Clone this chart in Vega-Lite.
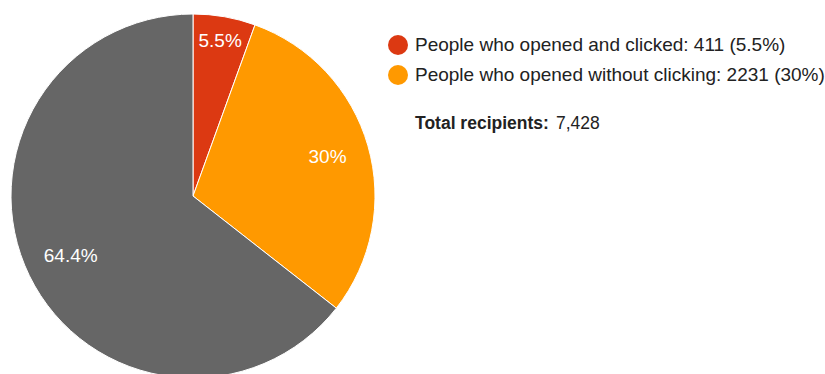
{
  "$schema": "https://vega.github.io/schema/vega-lite/v6.json",
  "padding": {"top": 12, "left": 0, "right": 0, "bottom": 0},
  "background": "white",
  "config": {"font": "Liberation Sans", "view": {"stroke": null}, "concat": {"spacing": 0}},
  "datasets": {
    "slices": [
      {"label": "People who opened and clicked: 411 (5.5%)", "count": 411, "pct": "5.5%", "order": 1},
      {"label": "People who opened without clicking: 2231 (30%)", "count": 2231, "pct": "30%", "order": 2},
      {"label": "Other recipients: 4786 (64.4%)", "count": 4786, "pct": "64.4%", "order": 3}
    ],
    "total": [{"title": "Total recipients:", "value": "7,428"}]
  },
  "hconcat": [
    {
      "width": 386,
      "height": 362,
      "data": {"name": "slices"},
      "encoding": {
        "theta": {"field": "count", "type": "quantitative", "stack": true},
        "order": {"field": "order", "type": "quantitative"}
      },
      "layer": [
        {
          "mark": {"type": "arc", "outerRadius": 182, "stroke": "white", "strokeWidth": 1},
          "encoding": {
            "color": {
              "field": "label", "type": "nominal",
              "scale": {
                "domain": ["People who opened and clicked: 411 (5.5%)", "People who opened without clicking: 2231 (30%)", "Other recipients: 4786 (64.4%)"],
                "range": ["#DC3912", "#FF9900", "#666666"]
              },
              "legend": {
                "values": ["People who opened and clicked: 411 (5.5%)", "People who opened without clicking: 2231 (30%)"],
                "title": null,
                "orient": "none",
                "legendX": 388,
                "legendY": 20,
                "symbolType": "circle",
                "symbolSize": 400,
                "symbolStrokeWidth": 0,
                "symbolOpacity": 1,
                "labelFontSize": 19,
                "labelColor": "#222222",
                "labelLimit": 500,
                "rowPadding": 10,
                "labelOffset": 7
              }
            }
          }
        },
        {
          "mark": {"type": "text", "radius": 157, "fill": "white", "fontSize": 19},
          "encoding": {
            "text": {"field": "pct", "type": "nominal"},
            "opacity": {"condition": {"test": "datum.order === 1", "value": 1}, "value": 0}
          }
        },
        {
          "mark": {"type": "text", "radius": 140, "fill": "white", "fontSize": 19},
          "encoding": {
            "text": {"field": "pct", "type": "nominal"},
            "opacity": {"condition": {"test": "datum.order === 2", "value": 1}, "value": 0}
          }
        },
        {
          "mark": {"type": "text", "radius": 136, "fill": "white", "fontSize": 19},
          "encoding": {
            "text": {"field": "pct", "type": "nominal"},
            "opacity": {"condition": {"test": "datum.order === 3", "value": 1}, "value": 0}
          }
        }
      ]
    },
    {
      "width": 439,
      "height": 362,
      "data": {"name": "total"},
      "layer": [
        {
          "mark": {"type": "text", "align": "left", "baseline": "alphabetic", "fontSize": 17.5, "fontWeight": "bold", "fill": "#222222"},
          "encoding": {"x": {"value": 29}, "y": {"value": 114}, "text": {"field": "title"}}
        },
        {
          "mark": {"type": "text", "align": "left", "baseline": "alphabetic", "fontSize": 17.5, "fill": "#222222"},
          "encoding": {"x": {"value": 170}, "y": {"value": 114}, "text": {"field": "value"}}
        }
      ]
    }
  ]
}
